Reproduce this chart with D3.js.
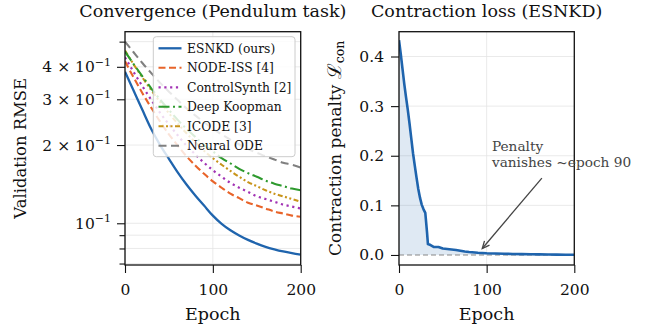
<!DOCTYPE html>
<html>
<head>
<meta charset="utf-8">
<script src="https://cdn.jsdelivr.net/npm/d3@7"></script>
<style>
  body { margin: 0; background: #fff; }
  text { font-family: "DejaVu Serif", serif; fill: #111; }
</style>
</head>
<body>
<svg id="chart" width="650" height="325"></svg>
<script>
// Validation RMSE, read every 10 epochs
const epochs = [0,10,20,30,40,50,60,70,80,90,100,110,120,130,140,150,160,170,180,190,200];
const esnkd        = [0.383,0.323,0.272,0.230,0.200,0.177,0.157,0.141,0.128,0.117,0.107,0.0995,0.0940,0.0898,0.0863,0.0835,0.0812,0.0794,0.0779,0.0767,0.0757];
const nodeIss      = [0.420,0.363,0.316,0.278,0.246,0.220,0.199,0.181,0.167,0.155,0.145,0.137,0.130,0.125,0.120,0.117,0.114,0.111,0.109,0.107,0.106];
const controlSynth = [0.435,0.381,0.336,0.298,0.266,0.240,0.218,0.199,0.184,0.171,0.160,0.151,0.143,0.137,0.132,0.127,0.124,0.121,0.118,0.116,0.114];
const deepKoopman  = [0.458,0.409,0.367,0.330,0.299,0.273,0.250,0.231,0.215,0.200,0.189,0.178,0.170,0.162,0.156,0.151,0.146,0.142,0.139,0.136,0.134];
const icode        = [0.462,0.408,0.363,0.325,0.293,0.265,0.242,0.222,0.205,0.190,0.178,0.168,0.159,0.151,0.144,0.139,0.134,0.130,0.127,0.124,0.121];
const neuralOde    = [0.500,0.454,0.413,0.378,0.347,0.321,0.298,0.277,0.260,0.245,0.231,0.220,0.210,0.201,0.193,0.187,0.181,0.176,0.171,0.168,0.164];

// Contraction penalty of ESNKD
const penaltyEpochs = [0,2,4,6,8,10,12,14,16,18,20,22,24,26,28,30,32,33,36,40,45,50,55,60,65,70,75,80,90,100,110,120,130,140,150,160,170,180,190,200];
const penaltyValues = [0.433,0.405,0.375,0.345,0.318,0.293,0.265,0.235,0.205,0.180,0.156,0.133,0.115,0.101,0.092,0.085,0.045,0.022,0.020,0.016,0.016,0.013,0.012,0.011,0.010,0.0085,0.007,0.006,0.0045,0.0035,0.003,0.0025,0.002,0.0018,0.0015,0.0012,0.001,0.0008,0.0006,0.0005];

// tick labels
const epochTicks = [0, 100, 200];
const rmseLabelTicks = [0.4, 0.3, 0.2, 0.1];
const rmseMinorTicks = [0.5, 0.09, 0.08, 0.07];
const penaltyTicks = [0, 0.1, 0.2, 0.3, 0.4];

const series = [
  { name: 'ESNKD (ours)',      values: esnkd,        color: '#1f64ad', dash: null,              width: 2.3 },
  { name: 'NODE-ISS [4]',      values: nodeIss,      color: '#e8642a', dash: '7,3.5',           width: 2.1 },
  { name: 'ControlSynth [2]',  values: controlSynth, color: '#a233b4', dash: '2.2,3.6',         width: 2.2 },
  { name: 'Deep Koopman',      values: deepKoopman,  color: '#2e9a2e', dash: '11,3.5,2,3.5',    width: 2.1 },
  { name: 'ICODE [3]',         values: icode,        color: '#c8941a', dash: '5,2.5,2,2.5,2,2.5', width: 2.1 },
  { name: 'Neural ODE',        values: neuralOde,    color: '#808080', dash: '8,4.5',           width: 2.1 }
];

const svg = d3.select('#chart');

// geometry of the two panels
const left = { x0: 125, x1: 300.7, y0: 31.7, y1: 265 };
const right = { x0: 399, x1: 574.3, y0: 31.7, y1: 265 };

const xL = d3.scaleLinear().domain([0, 200]).range([left.x0, left.x1]);
const yL = d3.scaleLog().domain([0.0691, 0.546]).range([left.y1, left.y0]);
const xR = d3.scaleLinear().domain([0, 200]).range([right.x0, right.x1]);
const yR = d3.scaleLinear().domain([-0.0202, 0.450]).range([right.y1, right.y0]);

const gridColor = '#e4e4e4';
const titleSize = 17.5, labelSize = 17.5, tickSize = 15.5;

function clip(id, p) {
  svg.append('clipPath').attr('id', id).append('rect')
    .attr('x', p.x0).attr('y', p.y0).attr('width', p.x1 - p.x0).attr('height', p.y1 - p.y0);
}
clip('clipL', left);
clip('clipR', right);

// ---------- left panel ----------
const gL = svg.append('g');
// grid
gL.selectAll('.hgrid').data(rmseLabelTicks.concat(rmseMinorTicks)).enter().append('line')
  .attr('x1', left.x0).attr('x2', left.x1)
  .attr('y1', d => yL(d)).attr('y2', d => yL(d))
  .attr('stroke', gridColor).attr('stroke-width', 0.8);
gL.selectAll('.vgrid').data(epochTicks).enter().append('line')
  .attr('x1', d => xL(d)).attr('x2', d => xL(d))
  .attr('y1', left.y0).attr('y2', left.y1)
  .attr('stroke', gridColor).attr('stroke-width', 0.8);

const lineL = d3.line()
  .x((d, i) => xL(epochs[i]))
  .y(d => yL(d))
  .curve(d3.curveMonotoneX);

const linesG = gL.append('g').attr('clip-path', 'url(#clipL)');
series.slice().reverse().forEach(s => {
  linesG.append('path')
    .attr('d', lineL(s.values))
    .attr('fill', 'none')
    .attr('stroke', s.color)
    .attr('stroke-width', s.width)
    .attr('stroke-dasharray', s.dash)
    .attr('stroke-linecap', 'butt');
});

// axes
gL.append('g')
  .attr('transform', `translate(0,${left.y1})`)
  .call(d3.axisBottom(xL).tickValues(epochTicks).tickSize(8).tickPadding(11).tickFormat(d3.format('d')));

const supLabel = d => {
  const lead = Math.round(d * 10);
  return lead === 1 ? '' : `${lead} \u00d7 `;
};
const yAxisL = gL.append('g')
  .attr('transform', `translate(${left.x0},0)`)
  .call(d3.axisLeft(yL).tickValues(rmseLabelTicks).tickSize(8).tickPadding(6));
yAxisL.selectAll('text').each(function(d) {
  const t = d3.select(this);
  t.text(null);
  t.append('tspan').text(supLabel(d) + '10');
  t.append('tspan').attr('dy', -6.5).attr('font-size', 11).text('\u22121');
});
gL.append('g')
  .attr('transform', `translate(${left.x0},0)`)
  .call(d3.axisLeft(yL).tickValues(rmseMinorTicks).tickSize(5.5).tickFormat(''));

// frame
gL.append('rect')
  .attr('x', left.x0).attr('y', left.y0)
  .attr('width', left.x1 - left.x0).attr('height', left.y1 - left.y0)
  .attr('fill', 'none').attr('stroke', '#111').attr('stroke-width', 1.3);

// legend
const legend = gL.append('g');
legend.append('rect')
  .attr('x', 153.3).attr('y', 36.7).attr('width', 141.7).attr('height', 120)
  .attr('rx', 3).attr('fill', '#fff').attr('fill-opacity', 0.82)
  .attr('stroke', '#cccccc').attr('stroke-width', 1);
series.forEach((s, i) => {
  const y = 48.3 + i * 19.5;
  legend.append('line')
    .attr('x1', 158.5).attr('x2', 181.5).attr('y1', y).attr('y2', y)
    .attr('stroke', s.color).attr('stroke-width', s.width)
    .attr('stroke-dasharray', s.dash);
  legend.append('text')
    .attr('x', 187).attr('y', y).attr('dy', '0.35em')
    .attr('font-size', 12.3).text(s.name);
});

// titles / labels
gL.append('text').attr('x', (left.x0 + left.x1) / 2).attr('y', 17)
  .attr('text-anchor', 'middle').attr('font-size', titleSize).text('Convergence (Pendulum task)');
gL.append('text').attr('x', (left.x0 + left.x1) / 2).attr('y', 320)
  .attr('text-anchor', 'middle').attr('font-size', labelSize).text('Epoch');
gL.append('text').attr('transform', `translate(26,${(left.y0 + left.y1) / 2}) rotate(-90)`)
  .attr('text-anchor', 'middle').attr('font-size', 16.4).text('Validation RMSE');

// ---------- right panel ----------
const gR = svg.append('g');
gR.selectAll('.hgrid').data(penaltyTicks.slice(1)).enter().append('line')
  .attr('x1', right.x0).attr('x2', right.x1)
  .attr('y1', d => yR(d)).attr('y2', d => yR(d))
  .attr('stroke', gridColor).attr('stroke-width', 0.8);
gR.selectAll('.vgrid').data(epochTicks).enter().append('line')
  .attr('x1', d => xR(d)).attr('x2', d => xR(d))
  .attr('y1', right.y0).attr('y2', right.y1)
  .attr('stroke', gridColor).attr('stroke-width', 0.8);

const penG = gR.append('g').attr('clip-path', 'url(#clipR)');
const area = d3.area()
  .x((d, i) => xR(penaltyEpochs[i]))
  .y0(yR(0))
  .y1(d => yR(d));
penG.append('path').attr('d', area(penaltyValues))
  .attr('fill', '#1f64ad').attr('fill-opacity', 0.14);

// zero reference
penG.append('line')
  .attr('x1', right.x0).attr('x2', right.x1)
  .attr('y1', yR(0)).attr('y2', yR(0))
  .attr('stroke', '#888').attr('stroke-width', 1.2).attr('stroke-dasharray', '5,3');

const lineR = d3.line()
  .x((d, i) => xR(penaltyEpochs[i]))
  .y(d => yR(d));
penG.append('path').attr('d', lineR(penaltyValues))
  .attr('fill', 'none').attr('stroke', '#1f64ad').attr('stroke-width', 2.6)
  .attr('stroke-linejoin', 'round');

gR.append('g')
  .attr('transform', `translate(0,${right.y1})`)
  .call(d3.axisBottom(xR).tickValues(epochTicks).tickSize(8).tickPadding(11).tickFormat(d3.format('d')));
gR.append('g')
  .attr('transform', `translate(${right.x0},0)`)
  .call(d3.axisLeft(yR).tickValues(penaltyTicks).tickSize(8).tickPadding(7).tickFormat(d3.format('.1f')));

gR.append('rect')
  .attr('x', right.x0).attr('y', right.y0)
  .attr('width', right.x1 - right.x0).attr('height', right.y1 - right.y0)
  .attr('fill', 'none').attr('stroke', '#111').attr('stroke-width', 1.3);

// annotation
const annText = [106, 0.21];
const annFrom = [163, 0.155];
const annTo = [95, 0.013];
const ann = gR.append('g');
ann.append('text').attr('x', xR(annText[0])).attr('y', yR(annText[1]))
  .attr('font-size', 13.7).style('fill', '#444').text('Penalty');
ann.append('text').attr('x', xR(annText[0])).attr('y', yR(annText[1]) + 16)
  .attr('font-size', 13.7).style('fill', '#444').text('vanishes ~epoch 90');
const ax1 = xR(annFrom[0]), ay1 = yR(annFrom[1]), ax2 = xR(annTo[0]), ay2 = yR(annTo[1]);
const ang = Math.atan2(ay2 - ay1, ax2 - ax1);
ann.append('line').attr('x1', ax1).attr('y1', ay1).attr('x2', ax2).attr('y2', ay2)
  .attr('stroke', '#444').attr('stroke-width', 1.3);
const head = 8, spread = 0.42;
ann.append('path')
  .attr('d', `M${ax2 - head * Math.cos(ang - spread)},${ay2 - head * Math.sin(ang - spread)} L${ax2},${ay2} L${ax2 - head * Math.cos(ang + spread)},${ay2 - head * Math.sin(ang + spread)}`)
  .attr('fill', 'none').attr('stroke', '#444').attr('stroke-width', 1.3);

gR.append('text').attr('x', (right.x0 + right.x1) / 2).attr('y', 17)
  .attr('text-anchor', 'middle').attr('font-size', titleSize).text('Contraction loss (ESNKD)');
gR.append('text').attr('x', (right.x0 + right.x1) / 2).attr('y', 320)
  .attr('text-anchor', 'middle').attr('font-size', labelSize).text('Epoch');
const yl = gR.append('text').attr('transform', `translate(341,${(right.y0 + right.y1) / 2}) rotate(-90)`)
  .attr('text-anchor', 'middle').attr('font-size', 17);
yl.append('tspan').text('Contraction penalty ');
yl.append('tspan').attr('font-size', 19).text('\u2112');
yl.append('tspan').attr('font-size', 12.5).attr('dy', 3).text('con');

// tick styling
svg.selectAll('.tick text').attr('font-size', tickSize).style('fill', '#111');
svg.selectAll('.tick line').attr('stroke', '#111').attr('stroke-width', 1.1);
svg.selectAll('.domain').remove();
</script>
</body>
</html>
